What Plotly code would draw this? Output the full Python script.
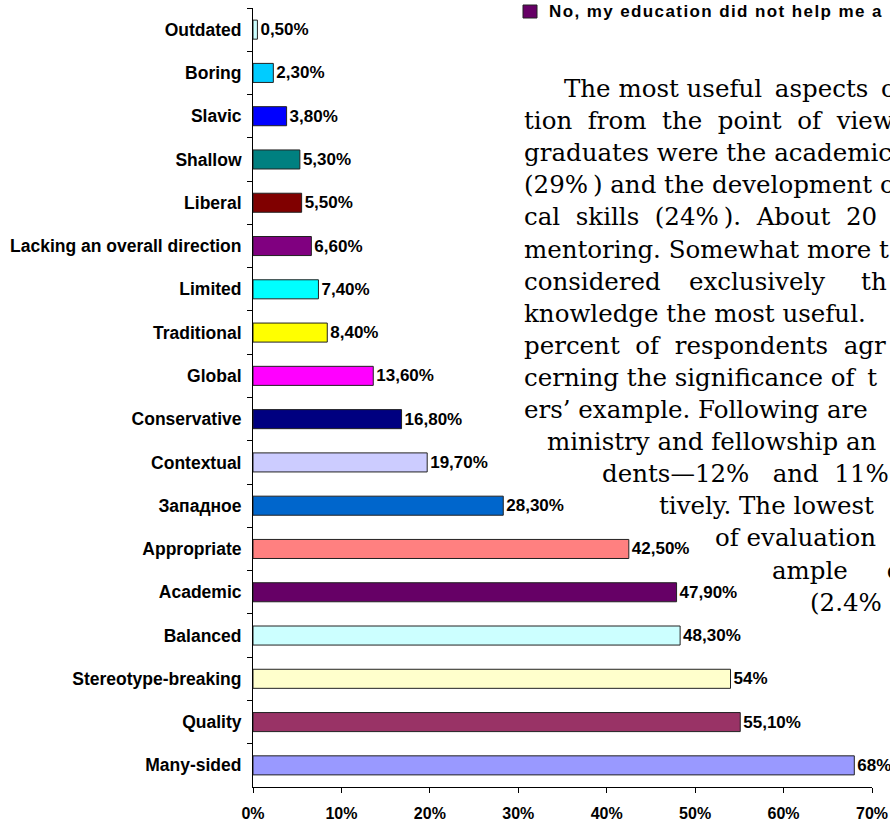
import plotly.graph_objects as go

# Survey answers, listed top to bottom
categories = [
    "Outdated", "Boring", "Slavic", "Shallow", "Liberal",
    "Lacking an overall direction", "Limited", "Traditional", "Global",
    "Conservative", "Contextual", "Западное", "Appropriate", "Academic",
    "Balanced", "Stereotype-breaking", "Quality", "Many-sided",
]
values = [0.5, 2.3, 3.8, 5.3, 5.5, 6.6, 7.4, 8.4, 13.6, 16.8, 19.7,
          28.3, 42.5, 47.9, 48.3, 54.0, 55.1, 68.0]
bar_colors = [
    "#CCFFFF", "#00CCFF", "#0000FF", "#008080", "#800000", "#800080",
    "#00FFFF", "#FFFF00", "#FF00FF", "#000080", "#CCCCFF", "#0066CC",
    "#FF8080", "#660066", "#CCFFFF", "#FFFFCC", "#993366", "#9999FF",
]
x_ticks = [0, 10, 20, 30, 40, 50, 60, 70]
x_tick_text = [f"{t}%" for t in x_ticks]

legend_text = "No, my education did not help me a"
legend_color = "#660066"

NB, TH = "\u00a0", "\u2009"
# Text column beside the chart: (left edge in px, line)
paragraph = [
    (562, f"The most useful{TH} aspects{TH} o"),
    (522, f"tion{NB} from{NB} the{NB} point{NB} of{NB} view"),
    (522, "graduates were the academic"),
    (522, f"(29%{TH}) and the development o"),
    (522, f"cal{NB} skills{NB} (24%{TH}).{NB} About{NB} 20"),
    (522, "mentoring. Somewhat more t"),
    (522, f"considered{NB}{NB}{TH} exclusively{NB}{NB}{NB}{TH} th"),
    (522, "knowledge the most useful."),
    (522, f"percent{NB} of{NB} respondents{NB} agr"),
    (522, f"cerning the significance of{TH} t"),
    (522, "ers’ example. Following are"),
    (545, "ministry and fellowship an"),
    (600, f"dents—12%{NB}{NB} and{NB} 11%"),
    (657, "tively. The lowest"),
    (713, "of evaluation"),
    (770, f"ample{NB}{NB}{NB}{NB} o"),
    (808, "(2.4%"),
]


def pct_label(v):
    if float(v).is_integer():
        return f"{int(v)}%"
    return f"{v:.2f}".replace(".", ",") + "%"


labels = [pct_label(v) for v in values]

W, H = 890, 824
L, R, T, B = 253, 18, 8, 37
PW, PH = W - L - R, H - T - B


def xp(px):
    return (px - L) / PW


def yp(py):
    return (H - B - py) / PH


sans = "Liberation Sans, Arial, sans-serif"
serif = "DejaVu Serif, serif"
bold17 = dict(family=sans, size=17, color="black", weight="bold")

fig = go.Figure(
    go.Bar(
        x=values,
        y=categories,
        orientation="h",
        marker=dict(color=bar_colors, line=dict(color="#222222", width=1)),
        text=labels,
        textposition="outside",
        textfont=bold17,
        cliponaxis=False,
        constraintext="none",
        showlegend=False,
    )
)

annotations = []
for i, (px, line) in enumerate(paragraph):
    annotations.append(dict(
        x=xp(px), y=yp(88.5 + i * 32.1), xref="paper", yref="paper",
        xanchor="left", yanchor="middle", text=line, showarrow=False,
        font=dict(family=serif, size=24.5, color="black"),
    ))

annotations.append(dict(
    x=xp(547), y=yp(12), xref="paper", yref="paper",
    xanchor="left", yanchor="middle",
    text=f'<span style="letter-spacing:1.4px">{legend_text}</span>',
    showarrow=False, font=bold17,
))

fig.update_layout(
    width=W, height=H,
    margin=dict(l=L, r=R, t=T, b=B, pad=0),
    paper_bgcolor="white", plot_bgcolor="white",
    bargap=0.56,
    font=dict(family=sans, color="black"),
    xaxis=dict(
        range=[0, 70], tickmode="array", tickvals=x_ticks, ticktext=x_tick_text,
        showgrid=False, zeroline=False, automargin=False,
        showline=True, linecolor="black", linewidth=1,
        ticks="outside", ticklen=5, tickcolor="black",
        tickfont=dict(family=sans, size=16, color="black", weight="bold"),
        ticklabelstandoff=7,
    ),
    yaxis=dict(
        autorange="reversed", type="category",
        showgrid=False, zeroline=False, automargin=False,
        showline=True, linecolor="black", linewidth=1,
        ticks="outside", ticklen=5, tickcolor="black", tickson="boundaries",
        tickfont=dict(family=sans, size=17.5, color="black", weight="bold"),
        ticklabelstandoff=7,
    ),
    shapes=[dict(
        type="rect", xref="paper", yref="paper",
        x0=xp(523), x1=xp(537), y0=yp(18), y1=yp(5),
        fillcolor=legend_color, line=dict(color="#222222", width=1),
    )],
    annotations=annotations,
)

fig.write_html("out.html")
